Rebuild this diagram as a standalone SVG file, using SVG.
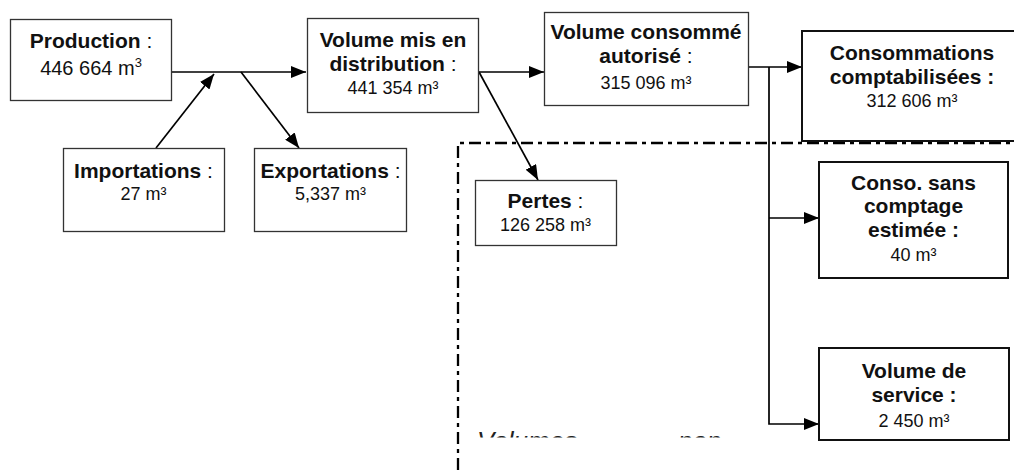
<svg xmlns="http://www.w3.org/2000/svg" width="1014" height="470" viewBox="0 0 1014 470">
<style>
text{font-family:"Liberation Sans",Arial,sans-serif;fill:#111;text-anchor:middle}
.b{font-weight:bold;font-size:21px}
.r{font-weight:normal}
.n{font-size:18px}
.box{fill:#fff;stroke:#333;stroke-width:1.3}
.box2{fill:#fff;stroke:#111;stroke-width:2}
.c{fill:none;stroke:#000;stroke-width:1.7}
.dash{fill:none;stroke:#000;stroke-width:2.3;stroke-dasharray:12 5 4 5}
.it{font-style:italic;font-size:26px;text-anchor:start;fill:#222}
</style>
<defs>
<marker id="ah" viewBox="0 0 15 12" refX="15" refY="6" markerWidth="15" markerHeight="12" markerUnits="userSpaceOnUse" orient="auto">
<path d="M0,0 L15,6 L0,12 Z" fill="#000"/>
</marker>
<clipPath id="clip"><rect x="460" y="400" width="300" height="37.5"/></clipPath>
</defs>

<g id="region">
<path class="dash" d="M458,470 V143 H1014"/>
<g clip-path="url(#clip)">
<text class="it" x="477" y="449.6">Volumes</text>
<text class="it" x="678" y="449.6">non</text>
</g>
</g>

<g id="connectors">
<line class="c" x1="171.5" y1="72" x2="306" y2="72" marker-end="url(#ah)"/>
<line class="c" x1="156" y1="148" x2="214" y2="74" marker-end="url(#ah)"/>
<line class="c" x1="241" y1="72" x2="299" y2="148" marker-end="url(#ah)"/>
<line class="c" x1="479" y1="72" x2="544" y2="72" marker-end="url(#ah)"/>
<line class="c" x1="479" y1="72" x2="538" y2="180" marker-end="url(#ah)"/>
<line class="c" x1="748" y1="67" x2="802" y2="67" marker-end="url(#ah)"/>
<polyline class="c" points="769,67 769,424 819,424" marker-end="url(#ah)"/>
<line class="c" x1="769" y1="218" x2="819" y2="218" marker-end="url(#ah)"/>
</g>

<g id="production">
<rect class="box" x="10.5" y="19.5" width="161" height="81"/>
<text x="91" y="48"><tspan class="b">Production</tspan><tspan class="r" font-size="21"> :</tspan></text>
<text x="91" y="75" font-size="20">446 664 m<tspan font-size="13" dy="-8">3</tspan></text>
</g>

<g id="importations">
<rect class="box" x="63.5" y="148.5" width="161" height="83"/>
<text x="143.5" y="178"><tspan class="b">Importations</tspan><tspan font-size="21"> :</tspan></text>
<text class="n" x="143.5" y="200">27 m³</text>
</g>

<g id="exportations">
<rect class="box" x="254.5" y="148.5" width="152" height="83"/>
<text x="330.5" y="178"><tspan class="b">Exportations</tspan><tspan font-size="21"> :</tspan></text>
<text class="n" x="330.5" y="200">5,337 m³</text>
</g>

<g id="volume-distribution">
<rect class="box" x="307.5" y="18.5" width="171" height="94"/>
<text class="b" x="393" y="47">Volume mis en</text>
<text x="393" y="71"><tspan class="b">distribution</tspan><tspan font-size="21"> :</tspan></text>
<text class="n" x="393" y="94">441 354 m³</text>
</g>

<g id="volume-consomme">
<rect class="box" x="544.5" y="12.5" width="204" height="93"/>
<text class="b" x="646" y="39">Volume consommé</text>
<text x="646" y="63"><tspan class="b">autorisé</tspan><tspan font-size="21"> :</tspan></text>
<text class="n" x="646" y="89">315 096 m³</text>
</g>

<g id="pertes">
<rect class="box" x="475.5" y="180.5" width="141" height="65"/>
<text x="545.5" y="208"><tspan class="b">Pertes</tspan><tspan font-size="21"> :</tspan></text>
<text class="n" x="545.5" y="231">126 258 m³</text>
</g>

<g id="consommations">
<rect class="box2" x="802" y="31" width="222" height="110"/>
<text class="b" x="912" y="60">Consommations</text>
<text class="b" x="912" y="84">comptabilisées :</text>
<text class="n" x="912" y="107">312 606 m³</text>
</g>

<g id="conso-sans-comptage">
<rect class="box2" x="819" y="162" width="189" height="116"/>
<text class="b" x="913.5" y="190">Conso. sans</text>
<text class="b" x="913.5" y="213">comptage</text>
<text class="b" x="913.5" y="237">estimée :</text>
<text class="n" x="913.5" y="261">40 m³</text>
</g>

<g id="volume-service">
<rect class="box2" x="819" y="348" width="190" height="92"/>
<text class="b" x="914" y="378">Volume de</text>
<text class="b" x="914" y="402">service :</text>
<text class="n" x="914" y="427">2 450 m³</text>
</g>
</svg>
